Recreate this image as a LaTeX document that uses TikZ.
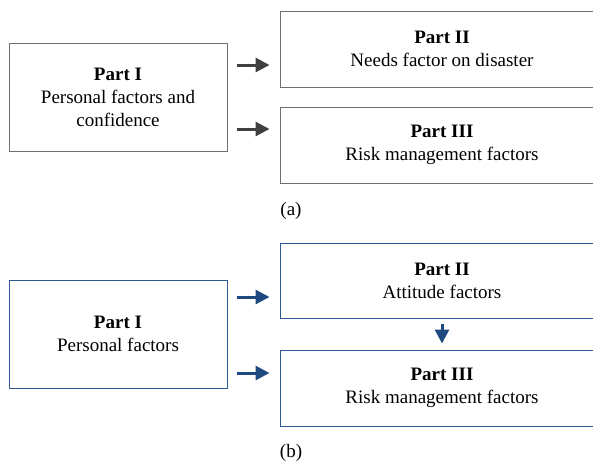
\documentclass[tikz,border=0pt]{standalone}
\usepackage{fontspec}
\setmainfont{Liberation Serif}
\usepackage{tikz}
\usetikzlibrary{arrows.meta,calc,positioning}
\definecolor{grayline}{HTML}{707070}
\definecolor{grayarrow}{HTML}{404040}
\definecolor{blueline}{HTML}{2E5A95}
\definecolor{bluearrow}{HTML}{1F4A7F}

\begin{document}
\begin{tikzpicture}[x=1pt,y=-1pt,
    every node/.style={font=\fontsize{19}{23}\selectfont,align=center,inner sep=0pt,text=black},
    leftbox/.style={draw,line width=1pt,minimum width=218pt,minimum height=108pt},
    rightbox/.style={draw,line width=1pt,minimum width=324pt,minimum height=76pt},
    arra/.style={grayarrow,line width=3pt,-{Triangle[length=14pt,width=14pt]}},
    arrb/.style={bluearrow,line width=3pt,-{Triangle[length=14pt,width=14pt]}}]
        \useasboundingbox (0,0) rectangle (593,461);
        \clip (0,0) rectangle (593,461);
        \fill[white] (0,0) rectangle (593,461);

        \node[leftbox,draw=grayline] (pa1) at (118,97) {\textbf{Part I}\\Personal factors and\\confidence};
        \node[rightbox,draw=grayline] (pa2) at (442,49) {\textbf{Part II}\\Needs factor on disaster};
        \node[rightbox,draw=grayline] (pa3) at (442,145) {\textbf{Part III}\\Risk management factors};
        \node (capa) at (291,211) {(a)};

        \draw[arra] ($(pa1.east)+(9,-32)$) -- ($(pa1.east -| pa2.west)+(-10,-32)$);
        \draw[arra] ($(pa1.east)+(9,32)$) -- ($(pa1.east -| pa3.west)+(-10,32)$);

        \node[leftbox,draw=blueline] (pb1) at (118,334) {\textbf{Part I}\\Personal factors};
        \node[rightbox,draw=blueline,minimum height=75pt] (pb2) at (442,280.5) {\textbf{Part II}\\Attitude factors};
        \node[rightbox,draw=blueline] (pb3) at (442,388) {\textbf{Part III}\\Risk management factors};
        \node (capb) at (291,453) {(b)};

        \draw[arrb] ($(pb1.east)+(9,-37)$) -- ($(pb1.east -| pb2.west)+(-10,-37)$);
        \draw[arrb] ($(pb1.east)+(9,39)$) -- ($(pb1.east -| pb3.west)+(-10,39)$);
        \draw[arrb] ($(pb2.south)+(0,5)$) -- ($(pb3.north)+(0,-6)$);
\end{tikzpicture}
\end{document}
